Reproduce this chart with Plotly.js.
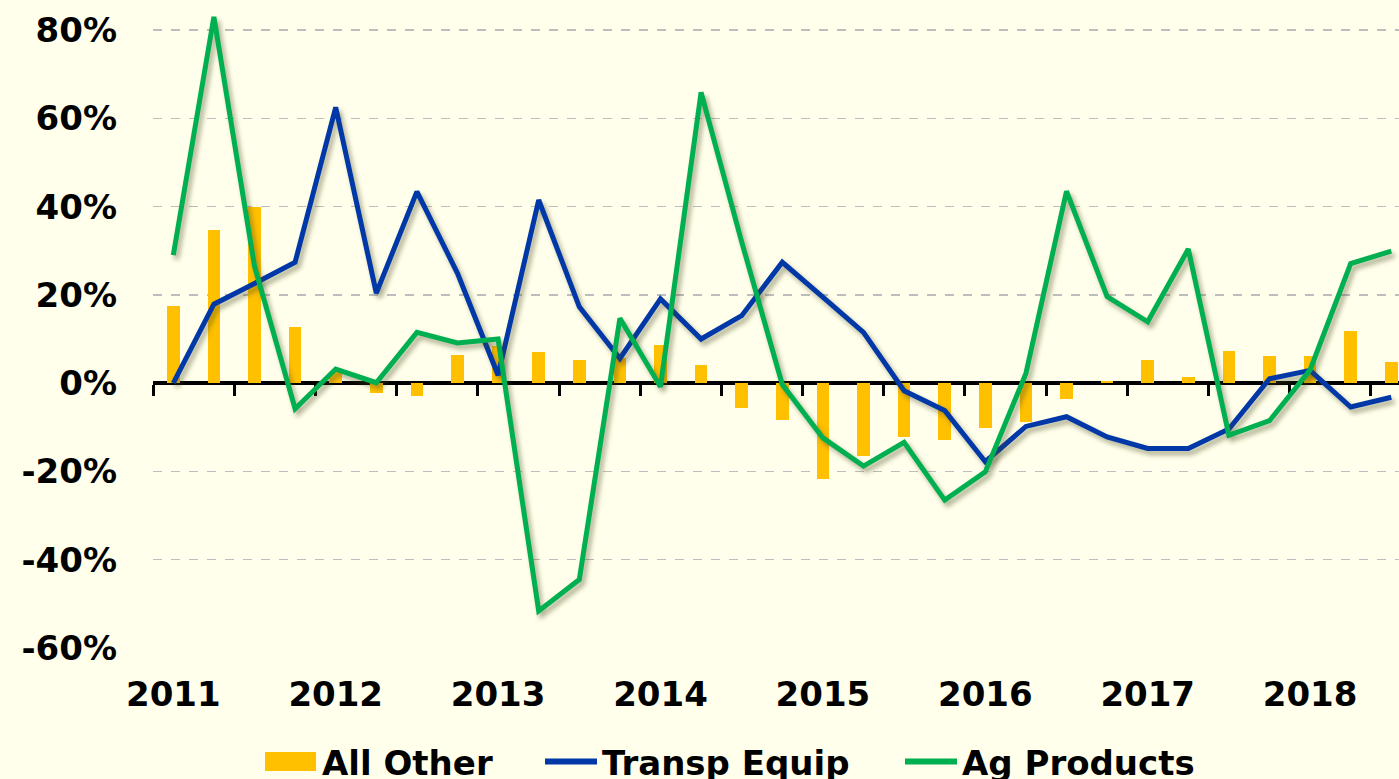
<!DOCTYPE html>
<html>
<head>
<meta charset="utf-8">
<script src="https://cdn.plot.ly/plotly-3.0.1.min.js"></script>
<style>
  html, body { margin: 0; padding: 0; background: #FFFFEB; overflow: hidden; }
  #chart { width: 1399px; height: 779px; }
  .scatterlayer .js-line { filter: drop-shadow(3px 4px 2.5px rgba(70,70,30,0.45)); }
</style>
</head>
<body>
<div id="chart"></div>
<script>
// Quarterly categories, 2011 Q1 .. 2018 Q3
const quarters = [
  "2011Q1","2011Q2","2011Q3","2011Q4",
  "2012Q1","2012Q2","2012Q3","2012Q4",
  "2013Q1","2013Q2","2013Q3","2013Q4",
  "2014Q1","2014Q2","2014Q3","2014Q4",
  "2015Q1","2015Q2","2015Q3","2015Q4",
  "2016Q1","2016Q2","2016Q3","2016Q4",
  "2017Q1","2017Q2","2017Q3","2017Q4",
  "2018Q1","2018Q2","2018Q3"
];
const years = ["2011","2012","2013","2014","2015","2016","2017","2018"];

// Values in percent
const allOther = [17.4, 34.8, 40.0, 12.8, 2.5, -2.3, -2.9, 6.3,
                  8.5, 7.1, 5.3, 5.8, 8.7, 4.2, -5.6, -8.3,
                  -21.7, -16.5, -12.2, -12.8, -10.1, -8.8, -3.6, 0.5,
                  5.3, 1.4, 7.3, 6.2, 6.2, 11.9, 4.8];
const transpEquip = [0.0, 17.9, 22.6, 27.4, 62.5, 20.4, 43.4, 24.9,
                     1.8, 41.5, 17.3, 5.6, 19.1, 10.0, 15.3, 27.4,
                     19.5, 11.5, -1.7, -6.2, -17.8, -9.8, -7.6, -12.2,
                     -14.8, -14.8, -10.4, 1.0, 2.9, -5.4, -3.2];
const agProducts = [29.0, 83.0, 26.5, -5.8, 3.2, 0.1, 11.5, 9.1,
                    10.0, -51.6, -44.5, 14.7, -0.8, 65.9, 32.0, -0.3,
                    -12.4, -18.8, -13.4, -26.5, -20.1, 2.2, 43.5, 19.6,
                    13.9, 30.4, -11.8, -8.5, 3.0, 27.1, 29.9];
const seriesNames = ["All Other", "Transp Equip", "Ag Products"];
const yTicks = [-60, -40, -20, 0, 20, 40, 60, 80];
const yTickText = yTicks.map(v => v + "%");

const colors = { bar: "#FFC000", blue: "#0038A8", green: "#00B050" };
const bg = "#FFFFEB";
const fontFam = "Verdana, 'DejaVu Sans', sans-serif";

const yRange = [-60, 85];
const xRange = [-0.5, 30.19];
const yearTickVals = quarters.filter(q => q.endsWith("Q1"));
const boundaryTicks = [];
for (let i = 0; i < quarters.length; i += 2) boundaryTicks.push(i - 0.5);

const traces = [
  {
    type: "bar", name: seriesNames[0], x: quarters, y: allOther,
    marker: { color: colors.bar }, width: 0.31, legend: "legend"
  },
  {
    type: "scatter", mode: "lines", name: seriesNames[1], x: quarters, y: transpEquip,
    line: { color: colors.blue, width: 5, shape: "linear" }, legend: "legend2"
  },
  {
    type: "scatter", mode: "lines", name: seriesNames[2], x: quarters, y: agProducts,
    line: { color: colors.green, width: 5, shape: "linear" }, legend: "legend3"
  },
  {
    type: "scatter", mode: "lines", x: [], y: [], xaxis: "x2", showlegend: false, hoverinfo: "skip"
  }
];

function legendAt(px) {
  return {
    orientation: "h", xref: "container", yref: "container",
    x: px / 1399, xanchor: "left", y: 1 - 762 / 779, yanchor: "middle",
    bgcolor: "rgba(0,0,0,0)", itemwidth: 52,
    font: { family: fontFam, size: 34, weight: "bold", color: "#000" }
  };
}

const layout = {
  width: 1399, height: 779,
  paper_bgcolor: bg, plot_bgcolor: bg,
  margin: { l: 153, r: 0, t: 8, b: 131 },
  font: { family: fontFam, color: "#000", size: 33, weight: "bold" },
  showlegend: true,
  bargap: 0,
  xaxis: {
    type: "category", range: xRange,
    tickmode: "array", tickvals: yearTickVals, ticktext: years,
    ticks: "", showline: false, showgrid: false, zeroline: false,
    ticklabelstandoff: 23,
    tickfont: { family: fontFam, size: 34, weight: "bold", color: "#000" }
  },
  xaxis2: {
    overlaying: "x", anchor: "free", position: (0 - yRange[0]) / (yRange[1] - yRange[0]),
    type: "linear", range: xRange,
    tickmode: "array", tickvals: boundaryTicks,
    ticks: "outside", ticklen: 11, tickwidth: 3, tickcolor: "#000",
    showline: true, linewidth: 4, linecolor: "#000",
    showticklabels: false, showgrid: false, zeroline: false,
    layer: "below traces"
  },
  yaxis: {
    range: yRange, tickmode: "array", tickvals: yTicks, ticktext: yTickText,
    showgrid: true, gridcolor: "#BDBDBD", griddash: "dash", gridwidth: 1.5,
    zeroline: false, showline: false, ticks: "",
    ticklabelstandoff: 35,
    tickfont: { family: fontFam, size: 34, weight: "bold", color: "#000" }
  },
  legend: legendAt(260),
  legend2: legendAt(540),
  legend3: legendAt(900)
};

function styleLegendSwatches(gd) {
  gd.querySelectorAll("g.traces").forEach(item => {
    const d = item.__data__;
    const tr = d && d[0] && d[0].trace;
    if (!tr) return;
    if (tr.type === "bar") {
      item.querySelectorAll(".legendpoints path").forEach(p => {
        p.setAttribute("d", "M-25.5,-9.5h51v19h-51Z");
        p.setAttribute("transform", "translate(30.5,0)");
      });
    } else {
      item.querySelectorAll(".legendlines path").forEach(p => {
        p.style.strokeWidth = "6px";
      });
    }
  });
}

const gd = document.getElementById("chart");
Plotly.newPlot(gd, traces, layout, { displayModeBar: false, staticPlot: true }).then(() => {
  styleLegendSwatches(gd);
  gd.on && gd.on("plotly_afterplot", () => styleLegendSwatches(gd));
  setTimeout(() => styleLegendSwatches(gd), 50);
});
</script>
</body>
</html>
